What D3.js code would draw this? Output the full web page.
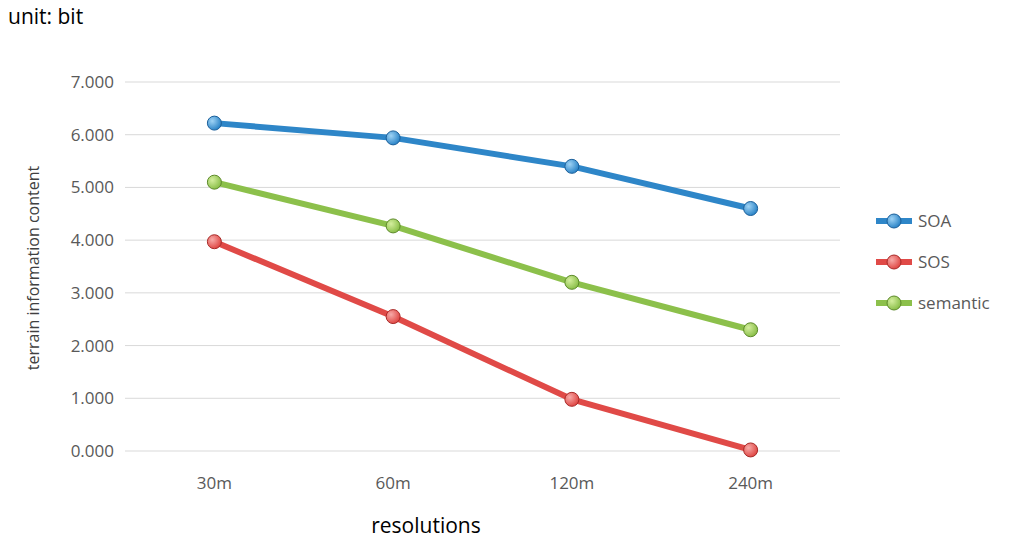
<!DOCTYPE html>
<html><head><meta charset="utf-8">
<script src="https://cdn.jsdelivr.net/npm/d3@7/dist/d3.min.js"></script>
<style>body{margin:0;background:#fff}text{font-family:"Open Sans",sans-serif}</style>
</head><body>
<svg id="c" width="1024" height="549"></svg>
<script>
var categories = ["30m", "60m", "120m", "240m"]
var soa = [6.22, 5.94, 5.40, 4.60]
var sos = [3.97, 2.55, 0.98, 0.02]
var semantic = [5.10, 4.27, 3.20, 2.30]
var yTicks = [0, 1, 2, 3, 4, 5, 6, 7]

var series = [
  {name: "SOA", values: soa, color: "#2e86c8", dark: "#1b5f9a", light: "#9fd3f5"},
  {name: "SOS", values: sos, color: "#e04a47", dark: "#a82a28", light: "#f7aaa8"},
  {name: "semantic", values: semantic, color: "#8cc04b", dark: "#5d8a2a", light: "#d4ee9e"}
]

var svg = d3.select("#c")
var x = d3.scaleBand().domain(categories).range([125, 840])
var y = d3.scaleLinear().domain([0, 7]).range([451, 82])

var defs = svg.append("defs")
series.forEach(function(s, i) {
  var g = defs.append("radialGradient").attr("id", "g" + i).attr("cx", "35%").attr("cy", "35%").attr("r", "65%")
  g.append("stop").attr("offset", "0%").attr("stop-color", s.light)
  g.append("stop").attr("offset", "100%").attr("stop-color", s.color)
})

svg.append("g").selectAll("line").data(yTicks).join("line")
  .attr("x1", 125).attr("x2", 840).attr("y1", d => y(d)).attr("y2", d => y(d))
  .attr("stroke", "#d9d9d9").attr("stroke-width", 1)

svg.append("g").selectAll("text").data(yTicks).join("text")
  .attr("x", 114).attr("y", d => y(d) + 6).attr("text-anchor", "end")
  .attr("font-size", 17).attr("fill", "#595959").text(d => d3.format(".3f")(d))

svg.append("g").selectAll("text").data(categories).join("text")
  .attr("x", d => x(d) + x.bandwidth() / 2).attr("y", 489).attr("text-anchor", "middle")
  .attr("font-size", 17).attr("fill", "#595959").text(d => d)

var line = d3.line().x((d, i) => x(categories[i]) + x.bandwidth() / 2).y(d => y(d))

series.forEach(function(s, i) {
  svg.append("path").attr("d", line(s.values)).attr("fill", "none")
    .attr("stroke", s.color).attr("stroke-width", 6).attr("stroke-linejoin", "round")
  svg.append("g").selectAll("circle").data(s.values).join("circle")
    .attr("cx", (d, j) => x(categories[j]) + x.bandwidth() / 2).attr("cy", d => y(d))
    .attr("r", 7).attr("fill", "url(#g" + i + ")").attr("stroke", s.dark).attr("stroke-width", 1)

  var ly = 221 + i * 41
  svg.append("line").attr("x1", 876).attr("x2", 912).attr("y1", ly).attr("y2", ly)
    .attr("stroke", s.color).attr("stroke-width", 6)
  svg.append("circle").attr("cx", 894).attr("cy", ly).attr("r", 7)
    .attr("fill", "url(#g" + i + ")").attr("stroke", s.dark)
  svg.append("text").attr("x", 918).attr("y", ly + 6).attr("font-size", 17)
    .attr("fill", "#595959").text(s.name)
})

svg.append("text").attr("transform", "translate(39,268) rotate(-90)").attr("text-anchor", "middle")
  .attr("font-size", 16).attr("fill", "#404040").text("terrain information content")
svg.append("text").attr("x", 426).attr("y", 533).attr("text-anchor", "middle")
  .attr("font-size", 21).attr("fill", "#000").text("resolutions")
svg.append("text").attr("x", 8).attr("y", 24).attr("font-size", 21).attr("fill", "#000").text("unit: bit")
</script>
</body></html>
